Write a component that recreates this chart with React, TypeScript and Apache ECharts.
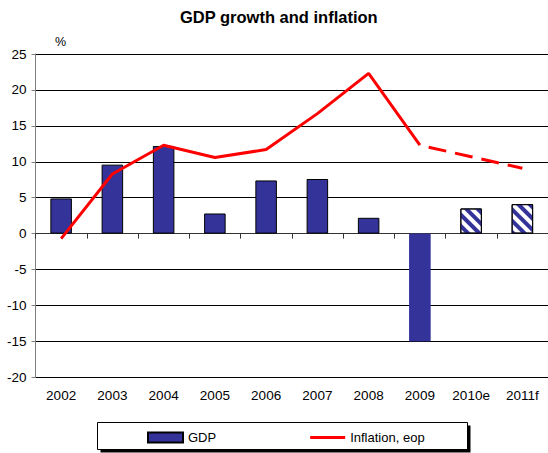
import React, { useEffect, useRef } from "react";
import * as echarts from "echarts";

const categories = ["2002", "2003", "2004", "2005", "2006", "2007", "2008", "2009", "2010e", "2011f"];
const gdpValues = [4.9, 9.6, 12.2, 2.8, 7.4, 7.6, 2.2, -15.0, 3.5, 4.1];
const inflationValues = [-0.7, 8.3, 12.3, 10.6, 11.7, 16.7, 22.3, 12.3, 10.7, 9.1];
const forecastFrom = 7; // index where the dashed (estimate/forecast) line starts
const hatchedFrom = 8; // GDP bars from this index are estimates/forecasts

const FONT = "'Liberation Sans', Arial, sans-serif";
const BLUE = "#333399";
const LINE_ICON = "path://M0,0L0.01,0M0,3.5L35,3.5L35,6.5L0,6.5ZM35,10L34.99,10";

export default function App() {
  const ref = useRef<HTMLDivElement>(null);
  useEffect(() => {
    if (!ref.current) return;
    const chart = echarts.init(ref.current, undefined, { renderer: "svg" });

    const gdpData = gdpValues.map((v, i) => {
      if (i >= hatchedFrom) {
        return {
          value: v,
          itemStyle: {
            color: "#ffffff",
            borderColor: "#000",
            borderWidth: 1,
            decal: {
              symbol: "rect",
              color: BLUE,
              dashArrayX: [1, 0],
              dashArrayY: [3.5, 4],
              rotation: Math.PI / 4,
            },
          },
        };
      }
      if (v < 0) {
        return { value: v, itemStyle: { borderColor: BLUE } };
      }
      return v;
    });
    const solidLine = inflationValues.map((v, i) => (i <= forecastFrom ? v : null));
    const dashedLine = inflationValues.map((v, i) => (i >= forecastFrom ? v : null));

    chart.setOption({
      animation: false,
      backgroundColor: "#ffffff",
      textStyle: { fontFamily: FONT },
      title: {
        text: "GDP growth and inflation",
        left: 180,
        top: 8,
        padding: 0,
        textStyle: { fontFamily: FONT, fontSize: 16.5, fontWeight: "bold", color: "#000" },
      },
      grid: { left: 35.5, right: -5.5, top: 54, bottom: 75.7, containLabel: false },
      xAxis: [
        {
          type: "category",
          data: categories,
          position: "top",
          boundaryGap: true,
          axisLine: { show: true, onZero: true, lineStyle: { color: "#333", width: 1 } },
          axisTick: { show: true, inside: true, length: 5, alignWithLabel: false, lineStyle: { color: "#333" } },
          axisLabel: { show: false },
          splitLine: { show: false },
        },
        {
          type: "category",
          data: categories,
          position: "bottom",
          boundaryGap: true,
          axisLine: { show: false, onZero: false },
          axisTick: { show: false },
          axisLabel: { show: true, margin: 11, fontSize: 13.5, color: "#000", fontFamily: FONT },
          splitLine: { show: false },
        },
      ],
      yAxis: {
        type: "value",
        min: -20,
        max: 25,
        interval: 5,
        axisLine: { show: true, lineStyle: { color: "#808080", width: 1 } },
        axisTick: { show: true, length: 4, lineStyle: { color: "#808080" } },
        axisLabel: { margin: 9, fontSize: 13.5, color: "#000", fontFamily: FONT },
        splitLine: { show: true, lineStyle: { color: "#000", width: 1 } },
      },
      legend: {
        data: [
          { name: "GDP", icon: "rect" },
          { name: "Inflation, eop", icon: LINE_ICON, itemStyle: { color: "#ff0000", borderWidth: 0 } },
        ],
        left: 147,
        top: 431,
        padding: 0,
        itemWidth: 35,
        itemHeight: 10,
        itemGap: 94,
        z: 10,
        textStyle: { fontSize: 13, color: "#000", fontFamily: FONT },
      },
      graphic: [
        { type: "rect", z: 1, shape: { x: 100.5, y: 425.5, width: 370, height: 27 }, style: { fill: "#000" } },
        {
          type: "rect",
          z: 2,
          shape: { x: 97.5, y: 422.5, width: 370, height: 27 },
          style: { fill: "#fff", stroke: "#000", lineWidth: 1 },
        },
        {
          type: "text",
          x: 55,
          y: 35,
          style: { text: "%", fontSize: 12.5, fontFamily: FONT, fill: "#000" },
        },
      ],
      series: [
        {
          name: "GDP",
          type: "bar",
          xAxisIndex: 0,
          barWidth: "42%",
          itemStyle: { color: BLUE, borderColor: "#000", borderWidth: 1 },
          data: gdpData,
          z: 2,
        },
        {
          name: "Inflation, eop",
          type: "line",
          xAxisIndex: 0,
          symbol: "none",
          showSymbol: false,
          lineStyle: { color: "#ff0000", width: 3 },
          itemStyle: { color: "#ff0000" },
          data: solidLine,
          z: 3,
        },
        {
          name: "Inflation forecast",
          type: "line",
          xAxisIndex: 0,
          symbol: "none",
          showSymbol: false,
          lineStyle: { color: "#ff0000", width: 3, type: [18, 9], dashOffset: 18 },
          itemStyle: { color: "#ff0000" },
          data: dashedLine,
          z: 3,
        },
      ],
    });
    return () => chart.dispose();
  }, []);
  return (
    <div
      ref={ref}
      style={{ position: "fixed", left: 0, top: 0, width: 548, height: 453, background: "#fff" }}
    />
  );
}
